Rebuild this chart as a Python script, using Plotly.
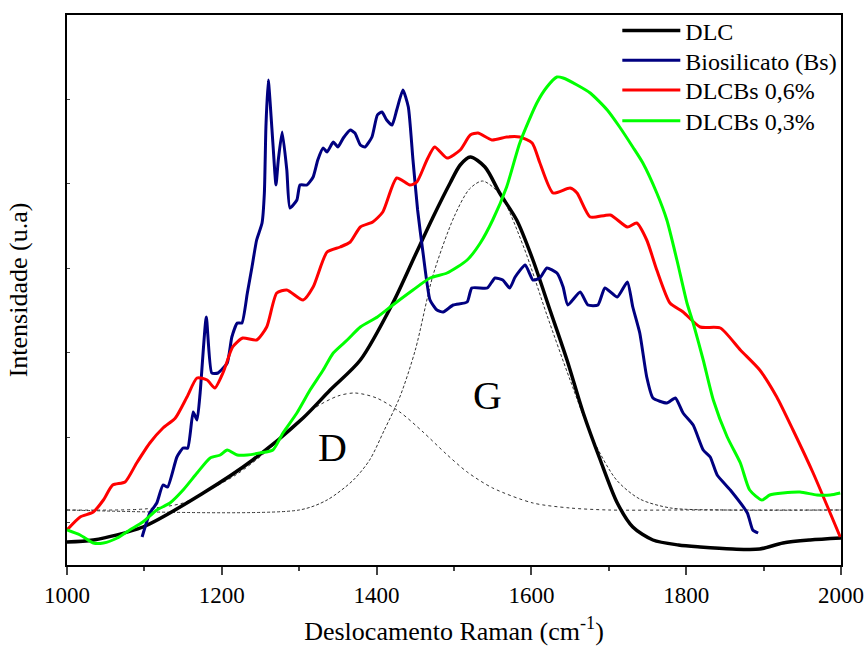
import plotly.graph_objects as go

# ---- data (x in cm^-1, intensity in arbitrary units) ----
x_dlc = [1000, 1034, 1098, 1176, 1240, 1305, 1340, 1379, 1421, 1450, 1473, 1495, 1508, 1521, 1540,
         1559, 1581, 1602, 1624, 1646, 1667, 1689, 1711, 1731, 1757, 1790, 1818, 1860, 1895, 1925, 1960, 2000]
y_dlc = [23, 25, 38, 72, 105, 147, 175, 205, 262, 310, 348, 382, 400, 408, 398,
         372, 345, 305, 255, 205, 152, 105, 62, 38, 25, 20, 18, 16, 16, 22, 25, 27]

x_bs = [1097, 1107, 1116, 1124, 1130, 1142, 1150, 1156, 1163, 1168, 1172, 1180, 1187, 1195, 1207, 1213,
        1220, 1226, 1233, 1239, 1245, 1252, 1255, 1257, 1260, 1266, 1270, 1273, 1278, 1284, 1288, 1297,
        1301, 1310, 1318, 1324, 1331, 1336, 1344, 1350, 1357, 1366, 1372, 1379, 1385, 1394, 1401, 1407,
        1413, 1420, 1426, 1434, 1441, 1447, 1453, 1460, 1469, 1478, 1486, 1499, 1517, 1523, 1543, 1553,
        1563, 1572, 1579, 1592, 1602, 1611, 1620, 1633, 1641, 1647, 1663, 1673, 1686, 1695, 1711, 1724,
        1731, 1740, 1749, 1757, 1775, 1786, 1796, 1809, 1822, 1831, 1840, 1857, 1879, 1886, 1893]
y_bs = [28, 52, 62, 80, 78, 108, 117, 117, 153, 145, 172, 248, 192, 192, 202, 228,
        242, 242, 272, 298, 325, 342, 372, 438, 485, 422, 380, 405, 433, 395, 357, 365,
        380, 380, 388, 405, 417, 413, 423, 418, 427, 435, 432, 420, 418, 428, 450, 453,
        445, 440, 455, 475, 458, 405, 355, 312, 265, 255, 253, 260, 263, 277, 277, 287,
        285, 277, 288, 300, 285, 287, 297, 292, 278, 260, 273, 260, 260, 277, 268, 283,
        258, 232, 188, 167, 162, 167, 152, 140, 115, 108, 90, 75, 52, 35, 32]

x_06 = [1000, 1017, 1034, 1047, 1059, 1075, 1090, 1107, 1124, 1140, 1155, 1168, 1181, 1191, 1202, 1214,
        1227, 1245, 1258, 1271, 1284, 1305, 1318, 1336, 1353, 1366, 1379, 1395, 1408, 1426, 1443, 1452,
        1465, 1475, 1491, 1508, 1521, 1531, 1549, 1568, 1585, 1601, 1611, 1628, 1650, 1659, 1676, 1702,
        1724, 1736, 1749, 1762, 1779, 1796, 1818, 1844, 1870, 1895, 1917, 1938, 1964, 1986, 1999]
y_06 = [35, 48, 53, 65, 80, 83, 102, 122, 137, 147, 168, 187, 185, 177, 193, 218,
        227, 225, 238, 272, 275, 265, 278, 313, 318, 323, 338, 343, 353, 387, 380, 383,
        405, 418, 407, 415, 430, 432, 425, 428, 428, 422, 402, 372, 377, 372, 348, 350,
        338, 342, 325, 295, 262, 253, 238, 237, 215, 195, 168, 135, 92, 52, 28]

x_03 = [1000, 1017, 1034, 1047, 1065, 1081, 1098, 1116, 1133, 1150, 1168, 1185, 1198, 1207, 1220, 1233,
        1249, 1266, 1279, 1297, 1314, 1331, 1344, 1362, 1379, 1401, 1421, 1447, 1469, 1491, 1517, 1534,
        1550, 1568, 1585, 1607, 1620, 1633, 1641, 1659, 1676, 1698, 1714, 1731, 1744, 1762, 1775, 1788,
        1801, 1809, 1822, 1835, 1853, 1870, 1882, 1898, 1908, 1925, 1947, 1969, 1986, 1999]
y_03 = [35, 30, 22, 22, 27, 35, 43, 55, 62, 75, 92, 107, 110, 115, 110, 110,
        112, 115, 132, 152, 175, 195, 212, 225, 238, 248, 260, 275, 287, 292, 305, 322,
        345, 378, 422, 462, 478, 488, 487, 480, 472, 455, 438, 418, 402, 372, 345, 305,
        262, 242, 205, 165, 128, 102, 75, 65, 70, 72, 73, 70, 70, 72]

x_d = [1000, 1100, 1150, 1176, 1220, 1260, 1292, 1320, 1350, 1372, 1400, 1430, 1460, 1490, 1517,
       1550, 1602, 1650, 1700, 1800, 2000]
y_d = [55, 56, 62, 72, 91, 115, 138, 157, 169, 172, 167, 153, 133, 111, 93,
       77, 62, 57, 55, 55, 55]

x_g = [1000, 1300, 1336, 1370, 1391, 1410, 1430, 1450, 1473, 1500, 1520, 1537, 1560, 1590, 1620,
       1650, 1680, 1710, 1740, 1780, 1850, 2000]
y_g = [55, 55, 65, 85, 105, 135, 168, 215, 290, 348, 376, 384, 370, 318, 250,
       185, 125, 85, 66, 57, 55, 55]

x_ticks = [1000, 1200, 1400, 1600, 1800, 2000]

series_names = ["DLC", "Biosilicato (Bs)", "DLCBs 0,6%", "DLCBs 0,3%"]
series_colors = ["#000000", "#000080", "#ff0000", "#00ff00"]

FONT = "Liberation Serif"

fig = go.Figure()

# fitted components (thin, dark)
fig.add_trace(go.Scatter(x=x_d, y=y_d, mode="lines", showlegend=False,
                         line=dict(color="#333333", width=1, dash="dot", shape="spline", smoothing=0.8)))
fig.add_trace(go.Scatter(x=x_g, y=y_g, mode="lines", showlegend=False,
                         line=dict(color="#333333", width=1, dash="3px,2px", shape="spline", smoothing=0.8)))

series = [(x_dlc, y_dlc, 3.5, 0.8), (x_bs, y_bs, 3, 0.5), (x_06, y_06, 3, 0.6), (x_03, y_03, 3, 0.6)]
legend_ids = ["legend", "legend2", "legend3", "legend4"]
for (xs, ys, w, sm), name, col, lid in zip(series, series_names, series_colors, legend_ids):
    fig.add_trace(go.Scatter(x=xs, y=ys, mode="lines", name=name, legend=lid,
                             line=dict(color=col, width=w, shape="spline", smoothing=sm)))

fig.add_annotation(x=1343, y=118, text="D", showarrow=False,
                   font=dict(family=FONT, size=40, color="#000"))
fig.add_annotation(x=1543, y=170, text="G", showarrow=False,
                   font=dict(family=FONT, size=40, color="#000"))

legend_rows = [0.971, 0.917, 0.863, 0.807]
leg_common = dict(x=0.711, xanchor="left", yanchor="middle", bgcolor="rgba(0,0,0,0)",
                  borderwidth=0, font=dict(family=FONT, size=24, color="#000"), itemwidth=58)
legends = {}
for lid, yy in zip(legend_ids, legend_rows):
    legends[lid] = dict(y=yy, **leg_common)

fig.update_layout(
    width=867, height=646,
    margin=dict(l=67, r=26, t=15, b=81, autoexpand=False),
    paper_bgcolor="white", plot_bgcolor="white",
    font=dict(family=FONT, size=23, color="#000"),
    xaxis=dict(range=[1000, 2000], tickvals=x_ticks, ticks="outside", ticklen=8, tickwidth=1.5,
               minor=dict(dtick=100, ticks="outside", ticklen=4, tickwidth=1.5),
               showline=True, linewidth=2, linecolor="#000", mirror=True,
               showgrid=False, zeroline=False, automargin=False,
               tickfont=dict(family=FONT, size=23, color="#000"),
               title=dict(text="Deslocamento Raman (cm<sup>-1</sup>)",
                          font=dict(family=FONT, size=26, color="#000"), standoff=15)),
    yaxis=dict(range=[0, 550], tick0=43, dtick=84.6, ticks="inside", ticklen=3, tickwidth=1,
               showticklabels=False,
               showline=True, linewidth=2, linecolor="#000", mirror=True,
               showgrid=False, zeroline=False, automargin=False,
               title=dict(text="Intensidade (u.a)", font=dict(family=FONT, size=26, color="#000"),
                          standoff=30)),
    **legends,
)

fig.write_html("out.html")
